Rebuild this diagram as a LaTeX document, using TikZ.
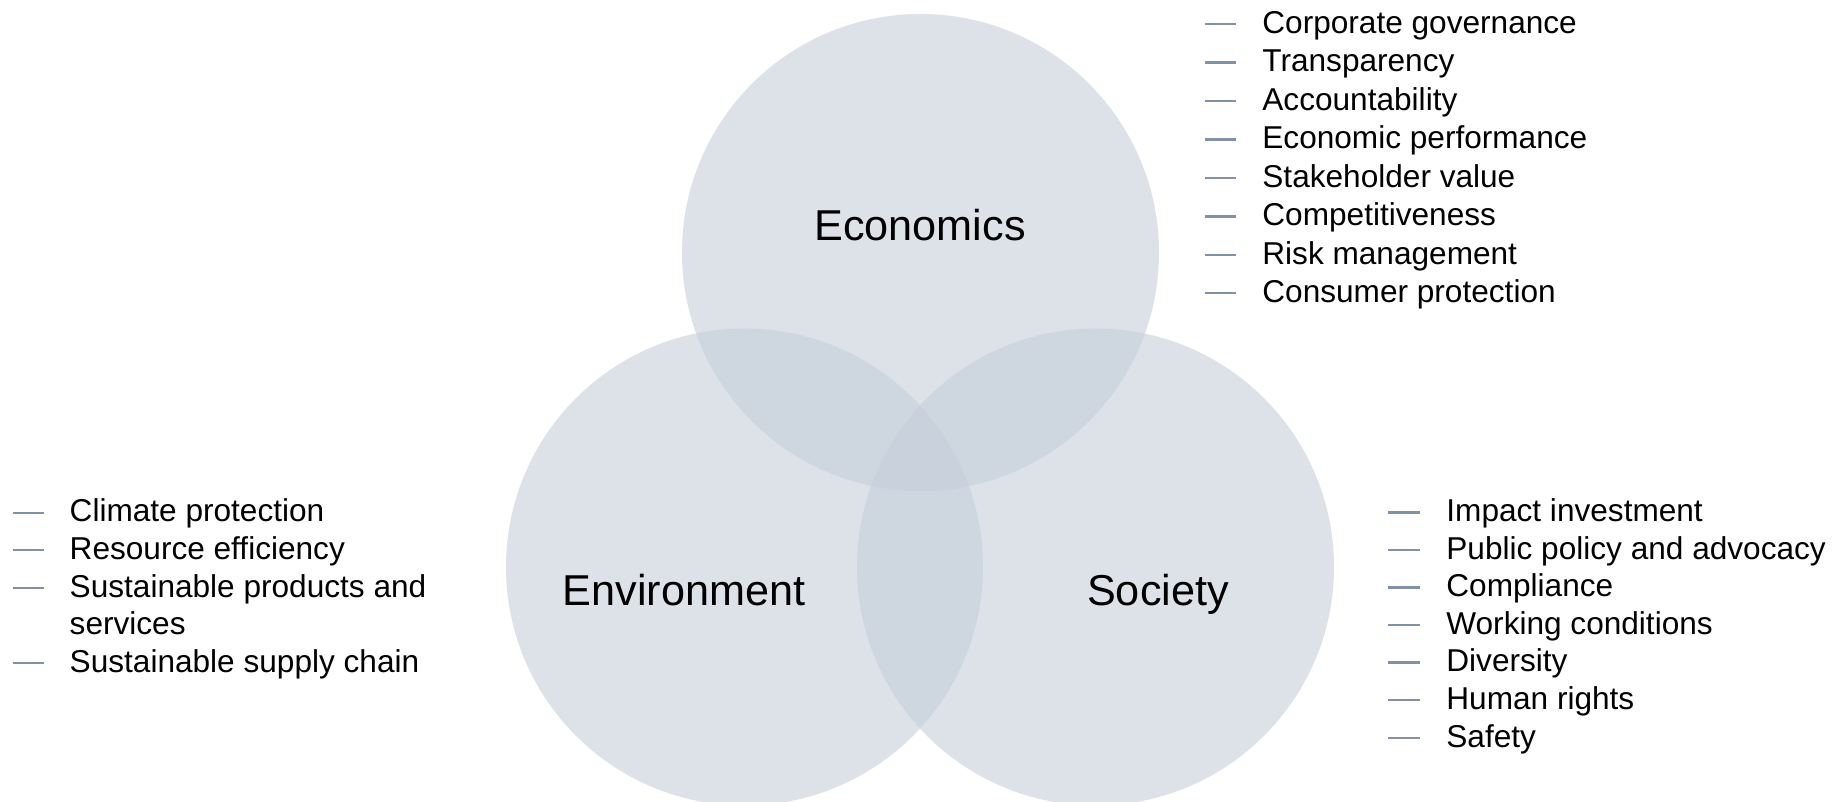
\documentclass[tikz,border=0pt]{standalone}
\usepackage{fontspec}
\setmainfont{Liberation Sans}
\definecolor{circfill}{RGB}{197,207,218}
\definecolor{dashgray}{RGB}{128,145,166}
\tikzset{
  pillar/.style={circle,fill=circfill,fill opacity=0.6,minimum size=238.5pt,inner sep=0pt},
  pillarlabel/.style={anchor=base,inner sep=0pt,font=\fontsize{21.6pt}{25pt}\selectfont},
  itemtext/.style={anchor=base west,inner sep=0pt,font=\fontsize{15.8pt}{19pt}\selectfont},
  itemdash/.style={draw=dashgray,line width=1.2pt}
}
\begin{document}
\begin{tikzpicture}[x=0.5pt,y=-0.5pt]
  \clip (0,0) rectangle (1833,802);
  \fill[white] (0,0) rectangle (1833,802);
  % the three pillars
  \node[pillar] (eco) at (920.5,252.5) {};
  \node[pillar] (env) at (744.5,567) {};
  \node[pillar] (soc) at (1095.5,567) {};
  \node[pillarlabel] (ecolabel) at (920,241) {Economics};
  \node[pillarlabel] (envlabel) at (684,605) {Environment};
  \node[pillarlabel] (soclabel) at (1158,605) {Society};
  % economics list
  \foreach \t [count=\i] in {Corporate governance,Transparency,Accountability,Economic performance,Stakeholder value,Competitiveness,Risk management,Consumer protection}{
    \draw[itemdash] (1205,{24+38.47*(\i-1)}) -- ++(31,0);
    \node[itemtext] (ecoitem\i) at (1262,{33.3+38.47*(\i-1)}) {\t};
  }
  % environment list
  \foreach \y/\t [count=\i] in {512.7/Climate protection,550/Resource efficiency,587.7/Sustainable products and,662.7/Sustainable supply chain}{
    \draw[itemdash] (12.7,\y) -- ++(31,0);
    \node[itemtext] (envitem\i) at (69.3,\y+9.3) {\t};
  }
  \node[itemtext] (envitem3b) at (69.3,634.5) {services};
  % society list
  \foreach \t [count=\i] in {Impact investment,Public policy and advocacy,Compliance,Working conditions,Diversity,Human rights,Safety}{
    \draw[itemdash] (1388,{512.3+37.57*(\i-1)}) -- ++(32,0);
    \node[itemtext] (socitem\i) at (1446,{521.6+37.57*(\i-1)}) {\t};
  }
\end{tikzpicture}
\end{document}
